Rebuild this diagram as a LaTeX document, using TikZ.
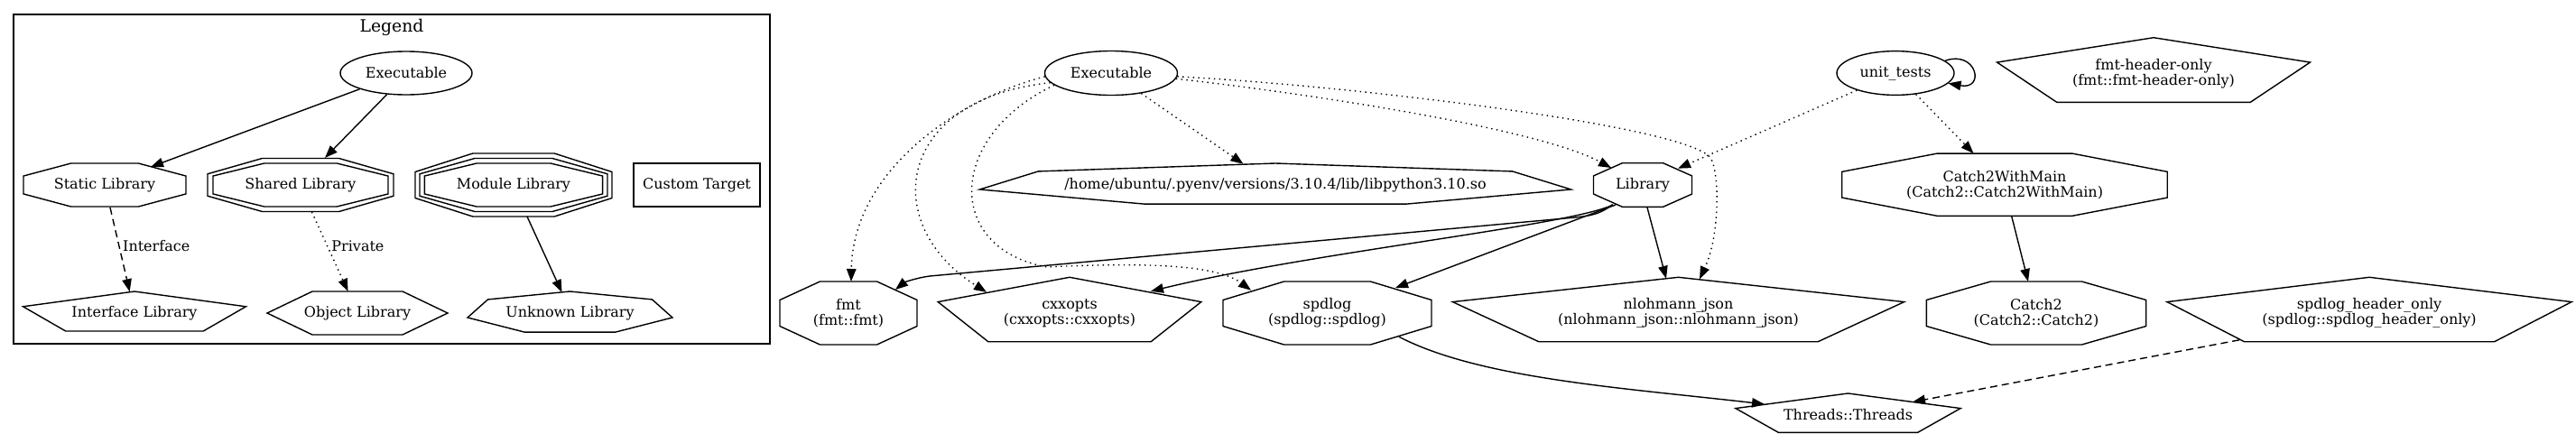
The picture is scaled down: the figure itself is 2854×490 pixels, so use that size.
\documentclass[tikz,border=0pt]{standalone}
\usepackage{fontspec}
\setmainfont{DejaVu Serif}
\usetikzlibrary{calc,shapes.geometric,arrows.meta}
\newcommand\gvfont{\fontsize{16}{17}\selectfont}
\newcommand\gvtitlefont{\fontsize{18.8}{20}\selectfont}
\tikzset{
 txt/.style={inner sep=0pt, font=\gvfont, align=center},
 shp/.style={line width=1.4pt, line join=miter},
 ell/.style={ellipse, draw, line width=1.4pt, inner sep=0pt, font=\gvfont},
 rbox/.style={rectangle, draw, line width=1.4pt, inner sep=0pt, font=\gvfont},
 e/.style={line width=1.4pt, -{Triangle[length=14pt,width=10.5pt]}},
 dotl/.style={dash pattern=on 1.4pt off 4.4pt},
 dashl/.style={dash pattern=on 8pt off 5pt},
}
% x, y, samples, start, end, Rx, Ry
\newcommand\gvpoly[7]{\draw[shp] plot[samples=#3, domain=#4:#5] ({#1+#6*cos(\x)},{#2+#7*sin(\x)}) -- cycle;}
\begin{document}
\begin{tikzpicture}[x=1pt,y=-1pt]
\useasboundingbox (0,0) rectangle (2854,490);
% ---------- Legend ----------
\draw[line width=1.4pt] (15,16) rectangle (853,381);
\node[txt, font=\gvtitlefont] (legTitle) at (434,30) {Legend};
\node[ell, minimum width=146pt, minimum height=48pt] (legExe) at (450,81) {Executable};
\node[txt] (legStatic) at (116,205) {Static Library};
\gvpoly{116}{205}{9}{22.5}{382.5}{97.4}{26}
\node[txt] (legShared) at (333,205) {Shared Library};
\gvpoly{333}{205}{9}{22.5}{382.5}{105}{26}
\gvpoly{333}{205}{9}{22.5}{382.5}{111.5}{31.9}
\node[txt] (legModule) at (569,205) {Module Library};
\gvpoly{569}{205}{9}{22.5}{382.5}{106.8}{26}
\gvpoly{569}{205}{9}{22.5}{382.5}{112.6}{31.9}
\gvpoly{569}{205}{9}{22.5}{382.5}{118}{37.9}
\node[rbox, minimum width=140pt, minimum height=48pt] (legCustom) at (772,205) {Custom Target};
\node[txt] (legInterface) at (149,347.3) {Interface Library};
\gvpoly{149}{347.3}{6}{-90}{270}{129.8}{24.3}
\node[txt] (legObject) at (396,347) {Object Library};
\gvpoly{396}{347}{7}{0}{360}{100}{27.7}
\node[txt] (legUnknown) at (631.5,346.7) {Unknown Library};
\gvpoly{631.5}{346.7}{8}{-90}{270}{116.4}{23.7}
\draw[e] (legExe.199) -- ($(legStatic)+(51,-20)$);
\draw[e] (legExe.228) -- ($(legShared)+(27,-30)$);
\draw[e,dashl] ($(legStatic)+(6,25)$) -- node[txt,pos=0.46,anchor=west,xshift=3.5pt]{Interface} ($(legInterface)+(-5.3,-24)$);
\draw[e,dotl] ($(legShared)+(12.5,30)$) -- node[txt,pos=0.43,anchor=west,xshift=4pt]{Private} ($(legObject)+(-10.4,-24)$);
\draw[e] ($(legModule)+(15,35)$) -- ($(legUnknown)+(-9,-22.7)$);
% ---------- Main graph ----------
\node[ell, minimum width=147pt, minimum height=49pt] (exe) at (1231,81) {Executable};
\node[ell, minimum width=130pt, minimum height=48.7pt] (unittests) at (2100,81) {unit\_tests};
\node[txt] (fmtho) at (2386,81.3) {fmt-header-only\\(fmt::fmt-header-only)};
\gvpoly{2386}{81.3}{6}{-90}{270}{182.4}{39.6}
\node[txt] (libpython) at (1413,204.7) {/home/ubuntu/.pyenv/versions/3.10.4/lib/libpython3.10.so};
\gvpoly{1413}{204.7}{8}{-90}{270}{336}{23.7}
\node[txt] (library) at (1820,205) {Library};
\gvpoly{1820}{205}{9}{22.5}{382.5}{59}{26.3}
\node[txt] (c2wm) at (2221,204.7) {Catch2WithMain\\(Catch2::Catch2WithMain)};
\gvpoly{2221}{204.7}{9}{22.5}{382.5}{195.1}{37.5}
\node[txt] (fmt) at (940,347) {fmt\\(fmt::fmt)};
\gvpoly{940}{347}{9}{22.5}{382.5}{82.3}{37.9}
\node[txt] (cxxopts) at (1185,346.8) {cxxopts\\(cxxopts::cxxopts)};
\gvpoly{1185}{346.8}{6}{-90}{270}{153.3}{39.5}
\node[txt] (spdlog) at (1470.5,347) {spdlog\\(spdlog::spdlog)};
\gvpoly{1470.5}{347}{9}{22.5}{382.5}{125}{37.9}
\node[txt] (nlohmann) at (1859.5,346.8) {nlohmann\_json\\(nlohmann\_json::nlohmann\_json)};
\gvpoly{1859.5}{346.8}{6}{-90}{270}{263}{39.5}
\node[txt] (catch2) at (2256,347) {Catch2\\(Catch2::Catch2)};
\gvpoly{2256}{347}{9}{22.5}{382.5}{131.7}{37.9}
\node[txt] (spdho) at (2625,346.8) {spdlog\_header\_only\\(spdlog::spdlog\_header\_only)};
\gvpoly{2625}{346.8}{6}{-90}{270}{235.6}{39.5}
\node[txt] (threads) at (2047.5,460) {Threads::Threads};
\gvpoly{2047.5}{460}{6}{-90}{270}{131}{24}
% edges
\draw[e,dotl] (exe.183) .. controls (1060,110) and (945,190) .. ($(fmt)+(3,-35)$);
\draw[e,dotl] (exe.189) .. controls (990,110) and (975,250) .. ($(cxxopts)+(-92,-23)$);
\draw[e,dotl] (exe.192) .. controls (1050,150) and (1045,275) .. (1160,296) .. controls (1280,290) and (1350,295) .. ($(spdlog)+(-84.5,-25.3)$);
\draw[e,dotl] (exe.-34) -- ($(libpython)+(-35.5,-23)$);
\draw[e,dotl] (exe.-5) .. controls (1420,100) and (1700,140) .. ($(library)+(-35,-19)$);
\draw[e,dotl] (exe.-3) .. controls (1500,95) and (1870,140) .. (1895,175) .. controls (1905,189) and (1906,260) .. ($(nlohmann)+(23.5,-37.5)$);
\draw[e,dotl] (unittests.204) -- ($(library)+(39,-18.3)$);
\draw[e,dotl] (unittests.-46) -- ($(c2wm)+(-34.5,-34.7)$);
\draw[e] (unittests.14) .. controls (2190,55) and (2200,100) .. (unittests.-11);
\draw[e] ($(library)+(-33.5,21.7)$) .. controls (1772,238) and (1762,239) .. (1745,241) -- (1030,306) .. controls (1015,308) and (1002,313) .. ($(fmt)+(52,-26)$);
\draw[e] ($(library)+(-33,22)$) .. controls (1740,250) and (1450,280) .. ($(cxxopts)+(90,-24)$);
\draw[e] ($(library)+(-30,22)$) -- ($(spdlog)+(75.5,-28)$);
\draw[e] ($(library)+(5,25)$) -- ($(nlohmann)+(-13.5,-38)$);
\draw[e] ($(c2wm)+(7.8,35.3)$) -- ($(catch2)+(-9,-35)$);
\draw[e] ($(spdlog)+(79.5,26.3)$) .. controls (1640,420) and (1800,430) .. ($(threads)+(-92.5,-12)$);
\draw[e,dashl] ($(spdho)+(-144,30)$) -- ($(threads)+(71.5,-14.5)$);
\end{tikzpicture}
\end{document}
